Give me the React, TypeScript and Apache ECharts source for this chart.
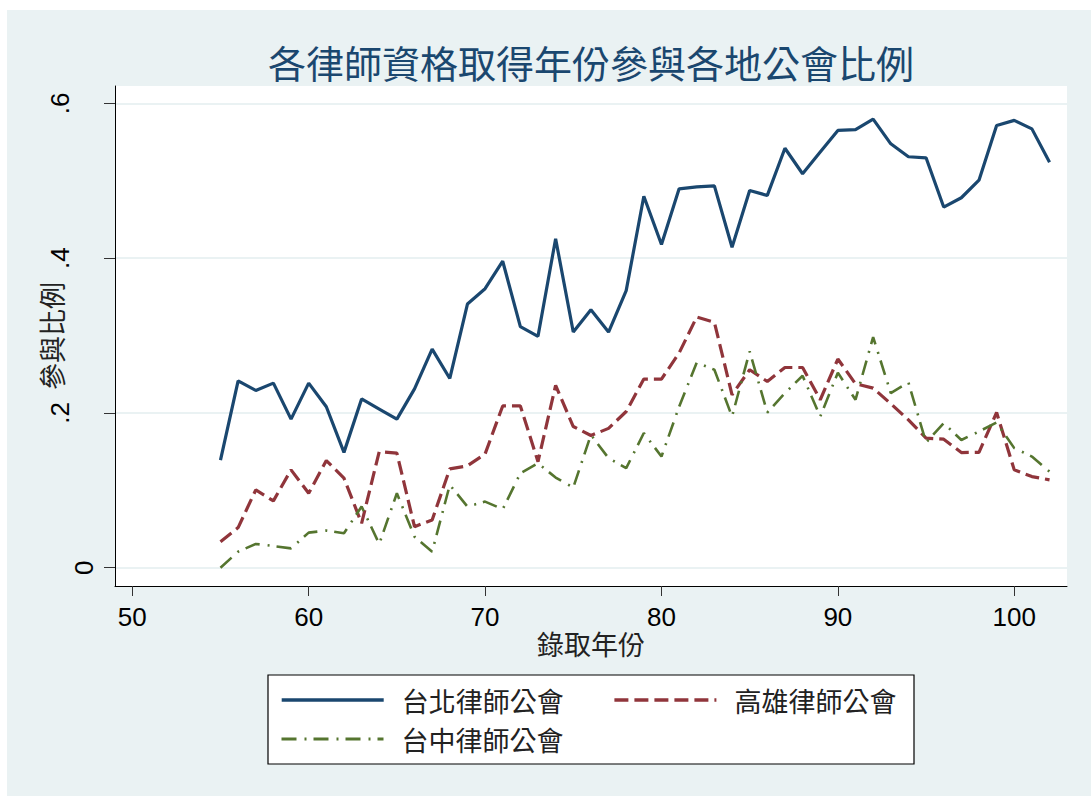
import React, { useEffect, useRef } from "react";
import * as echarts from "echarts";

const title = "各律師資格取得年份參與各地公會比例";
const xTitle = "錄取年份";
const yTitle = "參與比例";
const seriesNames = ["台北律師公會", "高雄律師公會", "台中律師公會"];

const xTicks = [50, 60, 70, 80, 90, 100];
const yTicks = [0, 0.2, 0.4, 0.6];

const years = [
  55, 56, 57, 58, 59, 60, 61, 62, 63, 64, 65, 66, 67, 68, 69, 70,
  71, 72, 73, 74, 75, 76, 77, 78, 79, 80, 81, 82, 83, 84, 85, 86,
  87, 88, 89, 90, 91, 92, 93, 94, 95, 96, 97, 98, 99, 100, 101, 102,
];

const taipei = [
  0.139, 0.2415, 0.229, 0.2385, 0.192, 0.2385, 0.208, 0.149, 0.218, 0.205, 0.192, 0.231, 0.2825, 0.2445, 0.3407, 0.3605,
  0.396, 0.3114, 0.299, 0.425, 0.3045, 0.3334, 0.3045, 0.358, 0.48, 0.4175, 0.4895, 0.492, 0.4934, 0.414, 0.4873, 0.481,
  0.542, 0.509, 0.537, 0.565, 0.566, 0.5796, 0.5477, 0.531, 0.5296, 0.466, 0.478, 0.5007, 0.5714, 0.578, 0.567, 0.524,
];

const kaohsiung = [
  0.0336, 0.0518, 0.1005, 0.0863, 0.1264, 0.0962, 0.1384, 0.1157, 0.0574, 0.15, 0.148, 0.053, 0.0617, 0.1277, 0.1316, 0.147,
  0.209, 0.209, 0.137, 0.2355, 0.1824, 0.1708, 0.18, 0.2018, 0.2437, 0.2437, 0.2774, 0.324, 0.317, 0.2234, 0.2558, 0.2406,
  0.2587, 0.2587, 0.217, 0.2696, 0.2376, 0.232, 0.2118, 0.191, 0.1674, 0.166, 0.1488, 0.149, 0.2005, 0.1264, 0.1177, 0.1135,
];

const taichung = [
  0, 0.0207, 0.0307, 0.028, 0.025, 0.0453, 0.048, 0.0445, 0.079, 0.0307, 0.0962, 0.04, 0.0207, 0.107, 0.079, 0.0854,
  0.0755, 0.122, 0.135, 0.1164, 0.1035, 0.1717, 0.1415, 0.1286, 0.174, 0.1436, 0.208, 0.265, 0.2558, 0.1953, 0.2794, 0.2005,
  0.2256, 0.248, 0.1953, 0.252, 0.217, 0.298, 0.2256, 0.2393, 0.1617, 0.1868, 0.165, 0.176, 0.1876, 0.1545, 0.1436, 0.1242,
];

const colors = ["#1A476F", "#90353B", "#55752F"];
const LATIN = "'Liberation Sans', Arial, sans-serif";
const CJK = "'Noto Sans CJK TC', 'Noto Sans CJK SC', sans-serif";

export default function App() {
  const ref = useRef<HTMLDivElement>(null);

  useEffect(() => {
    if (!ref.current) return;
    const chart = echarts.init(ref.current, undefined, { renderer: "svg" });
    const pairs = (vals: number[]) => years.map((y, i) => [y, vals[i]]);

    const legendBase = {
      left: 273,
      padding: 0,
      itemWidth: 102,
      itemHeight: 14,
      z: 10,
      itemStyle: { opacity: 0 },
      textStyle: { fontFamily: CJK, fontSize: 27, color: "#222", padding: [0, 0, 0, 13] },
    };

    const option: any = {
      animation: false,
      backgroundColor: "#EAF2F3",
      title: {
        text: title,
        left: 261,
        top: 32,
        padding: 0,
        textStyle: { fontFamily: CJK, fontSize: 38, fontWeight: "normal", color: "#1A476F" },
      },
      grid: {
        left: 108,
        top: 76,
        width: 952,
        height: 500,
        show: true,
        backgroundColor: "#ffffff",
        borderWidth: 0,
      },
      xAxis: {
        type: "value",
        min: 49.02,
        max: 102.99,
        name: xTitle,
        nameLocation: "middle",
        nameGap: 44,
        nameMoveOverlap: false,
        nameTextStyle: { fontFamily: CJK, fontSize: 27, color: "#222" },
        axisLine: { onZero: false, lineStyle: { color: "#000", width: 1 } },
        axisTick: { customValues: xTicks, length: 10, lineStyle: { color: "#333", width: 1 } },
        axisLabel: {
          customValues: xTicks,
          margin: 18,
          fontFamily: LATIN,
          fontSize: 26,
          color: "#000",
        },
        splitLine: { show: false },
      },
      yAxis: {
        type: "value",
        min: -0.02366,
        max: 0.6224,
        name: yTitle,
        nameLocation: "middle",
        nameRotate: 90,
        nameGap: 50,
        nameMoveOverlap: false,
        nameTextStyle: { fontFamily: CJK, fontSize: 27, color: "#222" },
        axisLine: { show: true, lineStyle: { color: "#000", width: 1 } },
        axisTick: { show: true, customValues: yTicks, length: 11, lineStyle: { color: "#333", width: 1 } },
        axisLabel: {
          customValues: yTicks,
          rotate: 90,
          margin: 18,
          color: "#000",
          fontFamily: LATIN,
          fontSize: 26,
          formatter: (v: number) =>
            v === 0 ? "{z|0}" : "{p|" + v.toFixed(1).replace(/^0/, "") + "}",
          rich: {
            z: { fontFamily: LATIN, fontSize: 26, color: "#000" },
            p: { fontFamily: LATIN, fontSize: 26, color: "#000", padding: [0, 0, 24, 0] },
          },
        },
        splitLine: { show: true, lineStyle: { color: "#EAF2F3", width: 2 } },
      },
      graphic: [
        {
          type: "rect",
          z: 0,
          shape: { x: 261, y: 665, width: 646, height: 89 },
          style: { fill: "#ffffff", stroke: "#000000", lineWidth: 1.2 },
        },
      ],
      legend: [
        {
          ...legendBase,
          data: [seriesNames[0], seriesNames[1]],
          top: 676.5,
          itemGap: 49,
          lineStyle: { width: 3.4 },
        },
        { ...legendBase, data: [seriesNames[2]], top: 715.5, lineStyle: { width: 3 } },
      ],
      series: [
        {
          name: seriesNames[0],
          type: "line",
          data: pairs(taipei),
          symbol: "none",
          color: colors[0],
          lineStyle: { color: colors[0], width: 3.2, type: "solid" },
        },
        {
          name: seriesNames[1],
          type: "line",
          data: pairs(kaohsiung),
          symbol: "none",
          color: colors[1],
          lineStyle: { color: colors[1], width: 3.2, type: [14, 6] },
        },
        {
          name: seriesNames[2],
          type: "line",
          data: pairs(taichung),
          symbol: "none",
          color: colors[2],
          lineStyle: { color: colors[2], width: 2.6, type: [15, 8, 2, 7] },
        },
      ],
    };

    chart.setOption(option);
    return () => chart.dispose();
  }, []);

  return (
    <div style={{ position: "fixed", left: 0, top: 0, width: 1091, height: 796, background: "#ffffff" }}>
      <div ref={ref} style={{ position: "absolute", left: 7, top: 10, width: 1084, height: 786 }} />
    </div>
  );
}
